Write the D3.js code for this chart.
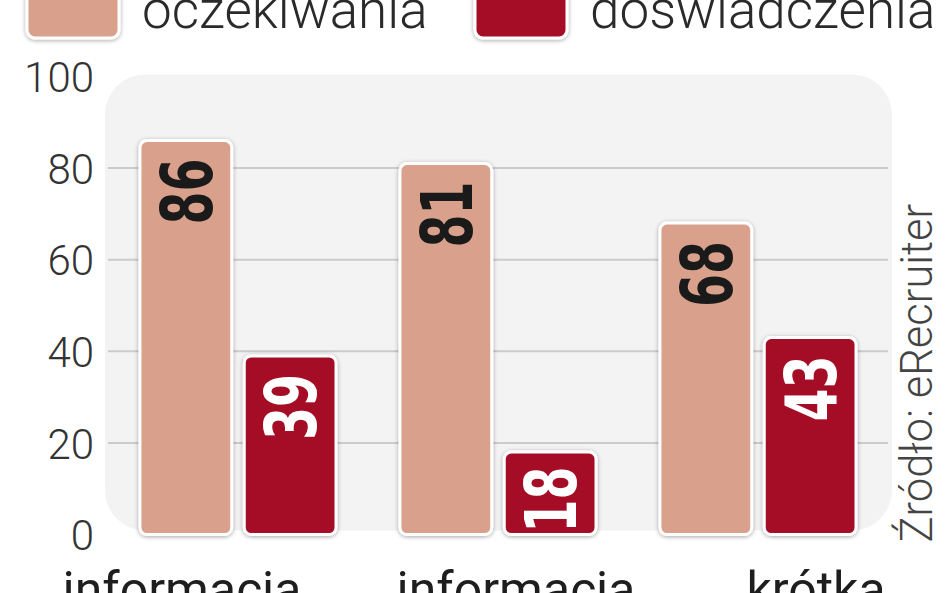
<!DOCTYPE html>
<html>
<head>
<meta charset="utf-8">
<script src="https://cdn.jsdelivr.net/npm/d3@7"></script>
<style>
  html, body { margin: 0; padding: 0; background: #fff; overflow: hidden; }
  svg { display: block; }
</style>
</head>
<body>
<svg id="chart" width="948" height="593"></svg>
<script>
var categories = ["informacja", "informacja", "krótka"];
var seriesNames = ["oczekiwania", "doświadczenia"];
var expectations = [86, 81, 68];
var experiences = [39, 18, 43];
var yTicks = [0, 20, 40, 60, 80, 100];
var sourceNote = "Źródło: eRecruiter";

var colors = ["#d9a18b", "#a50f28"];
var labelColors = ["#1a1a1a", "#ffffff"];

var width = 948, height = 593;
var svg = d3.select("#chart");

var defs = svg.append("defs");
var shadow = defs.append("filter")
  .attr("id", "shadow")
  .attr("x", "-20%").attr("y", "-20%")
  .attr("width", "140%").attr("height", "140%");
shadow.append("feDropShadow")
  .attr("dx", 0).attr("dy", 1)
  .attr("stdDeviation", 2)
  .attr("flood-color", "#000")
  .attr("flood-opacity", 0.35);

// scales
var groupIds = categories.map((c, i) => i);
var x0 = d3.scaleBand()
  .domain(groupIds)
  .range([108, 888])
  .paddingInner(0.246)
  .paddingOuter(0.123);

var x1 = d3.scaleBand()
  .domain(seriesNames)
  .range([0, x0.bandwidth()])
  .paddingInner(0.12);

var y = d3.scaleLinear()
  .domain([0, 100])
  .range([534.5, 76.5]);

// plot background
svg.append("rect")
  .attr("x", 105)
  .attr("y", y(100) - 2)
  .attr("width", 787)
  .attr("height", y(0) - y(100) - 2)
  .attr("rx", 40)
  .style("fill", "#f3f3f3");

// grid lines
svg.append("g")
  .selectAll("line")
  .data(yTicks.filter(t => t > 0 && t < 100))
  .join("line")
  .attr("x1", 108)
  .attr("x2", 888)
  .attr("y1", d => y(d))
  .attr("y2", d => y(d))
  .style("stroke", "#cbcbcb")
  .style("stroke-width", 2);

// y axis labels
var yAxis = svg.append("g")
  .attr("transform", "translate(94,0)")
  .call(d3.axisLeft(y).tickValues(yTicks).tickSize(0).tickPadding(0));
yAxis.select(".domain").remove();
yAxis.selectAll("text")
  .style("font-family", "Roboto, 'Liberation Sans', sans-serif")
  .style("font-weight", 300)
  .style("font-size", "42px")
  .style("fill", "#333")
  .attr("dy", "0.36em");

// bars
var rows = groupIds.map(i => ({
  group: i,
  values: [
    { series: seriesNames[0], value: expectations[i], idx: 0 },
    { series: seriesNames[1], value: experiences[i], idx: 1 }
  ]
}));

var groups = svg.append("g")
  .selectAll("g.group")
  .data(rows)
  .join("g")
  .attr("class", "group")
  .attr("transform", d => `translate(${x0(d.group)},0)`);

groups.selectAll("rect")
  .data(d => d.values)
  .join("rect")
  .attr("x", d => x1(d.series))
  .attr("y", d => y(d.value))
  .attr("width", x1.bandwidth())
  .attr("height", d => y(0) - y(d.value))
  .attr("rx", 7)
  .style("fill", d => colors[d.idx])
  .style("stroke", "#fff")
  .style("stroke-width", 3)
  .attr("filter", "url(#shadow)");

// value labels: bold, squeezed to a condensed look
var digitAdvance = 33;
function labelLength(d) { return String(d.value).length * digitAdvance; }
function labelPad(d) {
  // short bars: keep the label inside the bar
  return Math.min(18, y(0) - y(d.value) - labelLength(d) - 2);
}
groups.selectAll("text.value")
  .data(d => d.values)
  .join("text")
  .attr("class", "value")
  .attr("transform", d => `translate(${x1(d.series) + x1.bandwidth() / 2},${y(d.value) + labelPad(d)}) rotate(-90)`)
  .attr("dy", "0.37em")
  .attr("textLength", labelLength)
  .attr("lengthAdjust", "spacingAndGlyphs")
  .style("text-anchor", "end")
  .style("font-family", "'DejaVu Sans', 'Liberation Sans', sans-serif")
  .style("font-weight", "bold")
  .style("font-size", "71px")
  .style("fill", d => labelColors[d.idx])
  .text(d => d.value);

// category labels (partly cut off at the bottom, as in the source)
var labelShift = [-56, 18, 58];
svg.append("g")
  .selectAll("text")
  .data(categories)
  .join("text")
  .attr("x", (d, i) => x0(i) + x0.bandwidth() / 2 + labelShift[i])
  .attr("y", 607)
  .style("text-anchor", "middle")
  .style("font-family", "Roboto, 'Liberation Sans', sans-serif")
  .style("font-size", "50px")
  .style("fill", "#1e1e1e")
  .text(d => d);

// legend (partly cut off at the top)
var legendX = [27, 475];
var legend = svg.append("g")
  .selectAll("g")
  .data(seriesNames)
  .join("g")
  .attr("transform", (d, i) => `translate(${legendX[i]},0)`);

legend.append("rect")
  .attr("x", 0)
  .attr("y", -52)
  .attr("width", 92)
  .attr("height", 90)
  .attr("rx", 8)
  .style("fill", (d, i) => colors[i])
  .style("stroke", "#fff")
  .style("stroke-width", 3)
  .attr("filter", "url(#shadow)");

legend.append("text")
  .attr("x", 115)
  .attr("y", 28)
  .style("font-family", "Roboto, 'Liberation Sans', sans-serif")
  .style("font-weight", 300)
  .style("font-size", "53px")
  .style("fill", "#2a2a2a")
  .text(d => d);

// source note
svg.append("text")
  .attr("transform", `translate(932,${y(0) + 8}) rotate(-90)`)
  .style("font-family", "Roboto, 'Liberation Sans', sans-serif")
  .style("font-weight", 300)
  .style("font-size", "43.5px")
  .style("fill", "#444")
  .text(sourceNote);
</script>
</body>
</html>
